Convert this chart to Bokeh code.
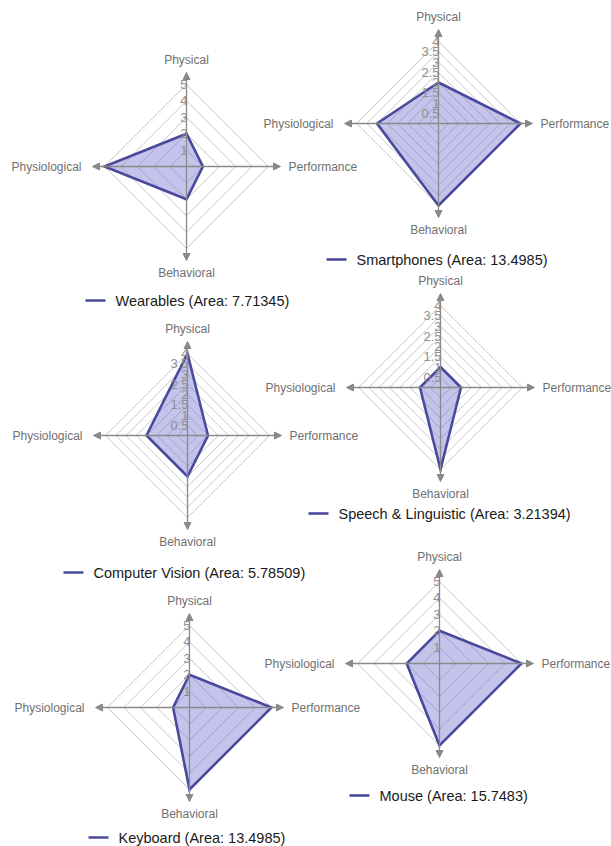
from bokeh.plotting import figure
from bokeh.models import Range1d, Arrow, NormalHead, ColumnDataSource
from bokeh.core.properties import value
from bokeh.embed import file_html
from bokeh.resources import INLINE

# ---- data ----
axis_names = ["Physical", "Performance", "Behavioral", "Physiological"]  # top, right, bottom, left
series_names = ["Wearables", "Smartphones", "Computer Vision", "Speech & Linguistic", "Keyboard", "Mouse"]
area_labels = ["7.71345", "13.4985", "5.78509", "3.21394", "13.4985", "15.7483"]
wearables = [2, 1, 2, 5]
smartphones = [2, 4, 4, 3]
computer_vision = [4, 1, 2, 2]
speech_linguistic = [1, 1, 4, 1]
keyboard = [2, 5, 5, 1]
mouse = [2, 5, 5, 2]
ticks_a = [1, 2, 3, 4, 5]
tick_labels_a = ["1", "2", "3", "4", "5"]
ticks_b = [0.5, 1, 1.5, 2, 2.5, 3, 3.5, 4]
tick_labels_b = ["0.5", "1", "1.5", "2", "2.5", "3", "3.5", "4"]

series_values = [wearables, smartphones, computer_vision, speech_linguistic, keyboard, mouse]
series_ticks = [(ticks_a, tick_labels_a), (ticks_b, tick_labels_b), (ticks_b, tick_labels_b),
                (ticks_b, tick_labels_b), (ticks_a, tick_labels_a), (ticks_a, tick_labels_a)]

# ---- layout (figure pixel space, y downward) ----
W, H = 611, 846
centers = [(186, 166), (438, 123), (187, 435), (440, 387), (189, 707), (439, 663)]
legend_pos = [(85, 300), (326, 259), (63, 572), (308, 513), (88, 837), (349, 795)]
R = 82.0       # radius of outermost ring
ARM = 94.0     # length of axis arrows

FONT = value("Liberation Sans")
GRID = "#c9c9c9"
AXIS = "#8a8a8a"
LABEL = "#707070"
FILL = "#6a6acd"
EDGE = "#4a4a9c"

p = figure(width=W, height=H, x_range=Range1d(0, W), y_range=Range1d(H, 0),
           output_backend="svg", toolbar_location=None, min_border=0)
p.axis.visible = False
p.grid.visible = False
p.outline_line_color = None
p.background_fill_color = "white"
p.border_fill_color = "white"

dirs = [(0, -1), (1, 0), (0, 1), (-1, 0)]

ring_xs, ring_ys = [], []
arrow_data = dict(x0=[], y0=[], x1=[], y1=[])
tx, ty, tt = [], [], []
lab = {k: dict(x=[], y=[], t=[]) for k in ["top", "right", "bottom", "left"]}

for (cx, cy), vals, (ticks, tlabels), name in zip(centers, series_values, series_ticks, series_names):
    vmax = ticks[-1]
    k = R / vmax
    for t, tl in zip(ticks, tlabels):
        r = t * k
        ring_xs.append([cx + dx * r for dx, dy in dirs] + [cx])
        ring_ys.append([cy + dy * r for dx, dy in dirs] + [cy - r])
        tx.append(cx + 1)
        ty.append(cy - r)
        tt.append(tl)
    for dx, dy in dirs:
        arrow_data["x0"].append(cx)
        arrow_data["y0"].append(cy)
        arrow_data["x1"].append(cx + dx * ARM)
        arrow_data["y1"].append(cy + dy * ARM)
    lab["top"]["x"].append(cx); lab["top"]["y"].append(cy - 107); lab["top"]["t"].append(axis_names[0])
    lab["right"]["x"].append(cx + 102); lab["right"]["y"].append(cy); lab["right"]["t"].append(axis_names[1])
    lab["bottom"]["x"].append(cx); lab["bottom"]["y"].append(cy + 106); lab["bottom"]["t"].append(axis_names[2])
    lab["left"]["x"].append(cx - 105); lab["left"]["y"].append(cy); lab["left"]["t"].append(axis_names[3])

# grid rings
p.multi_line(ring_xs, ring_ys, line_color=GRID, line_width=1)

# data polygons (fill)
poly_xs, poly_ys = [], []
for (cx, cy), vals, (ticks, _) in zip(centers, series_values, series_ticks):
    k = R / ticks[-1]
    poly_xs.append([cx + dx * v * k for (dx, dy), v in zip(dirs, vals)])
    poly_ys.append([cy + dy * v * k for (dx, dy), v in zip(dirs, vals)])
p.patches(poly_xs, poly_ys, fill_color=FILL, fill_alpha=0.4, line_color=None)

# axes with arrow heads
p.add_layout(Arrow(end=NormalHead(size=7, fill_color=AXIS, line_color=AXIS),
                   x_start="x0", y_start="y0", x_end="x1", y_end="y1",
                   line_color=AXIS, line_width=1.3, source=ColumnDataSource(arrow_data)))

# polygon outlines
p.patches(poly_xs, poly_ys, fill_color=None, line_color=EDGE, line_width=2.6, line_join="miter")

# tick labels
p.text(tx, ty, text=tt, text_align="right", text_baseline="middle", text_font=FONT,
       text_font_size="13px", text_color="#8f8f8f")

# axis labels
aligns = {"top": ("center", "middle"), "right": ("left", "middle"),
          "bottom": ("center", "middle"), "left": ("right", "middle")}
for key, d in lab.items():
    a, b = aligns[key]
    p.text(d["x"], d["y"], text=d["t"], text_align=a, text_baseline=b, text_font=FONT,
           text_font_size="12px", text_color=LABEL)

# legends
lx0 = [x for x, y in legend_pos]
lx1 = [x + 20 for x, y in legend_pos]
ly = [y for x, y in legend_pos]
p.segment(lx0, ly, lx1, ly, line_color=EDGE, line_width=2.6)
p.text([x + 30 for x in lx0], ly,
       text=[f"{n} (Area: {a})" for n, a in zip(series_names, area_labels)],
       text_align="left", text_baseline="middle", text_font=FONT,
       text_font_size="14.5px", text_color="#1a1a1a")

open("out.html", "w").write(file_html(p, INLINE))
